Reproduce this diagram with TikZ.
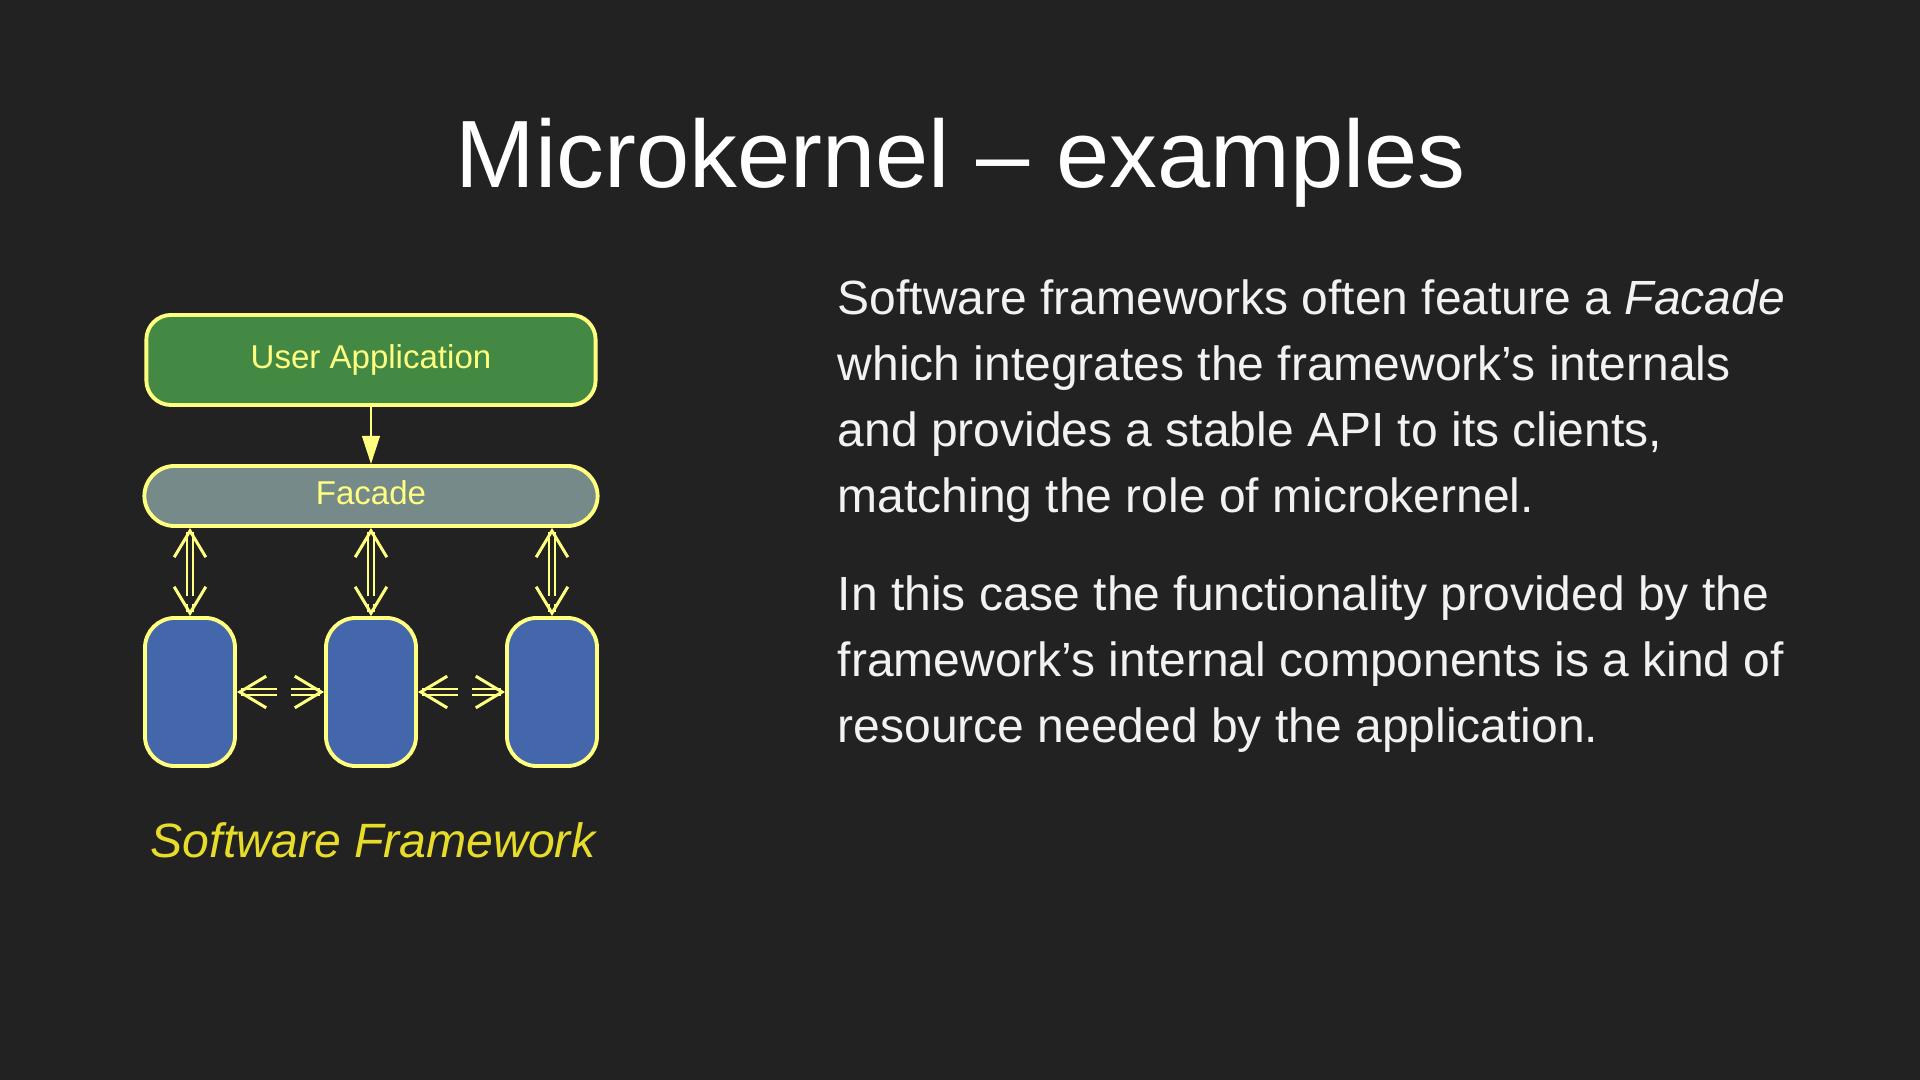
\documentclass[tikz,border=0pt]{standalone}
\usepackage{fontspec}
\setmainfont{Liberation Sans}
\usepackage{tikz}
\usetikzlibrary{arrows.meta}
\definecolor{slidebg}{HTML}{222222}
\definecolor{boxgreen}{HTML}{438943}
\definecolor{boxgray}{HTML}{778A8A}
\definecolor{boxblue}{HTML}{4466AA}
\definecolor{edgeyellow}{HTML}{FFFF80}
\definecolor{capyellow}{HTML}{E8DC2A}
\definecolor{bodywhite}{HTML}{F2F2F2}
\begin{document}
\begin{tikzpicture}[x=0.01cm,y=-0.01cm,
  bx/.style={draw=edgeyellow,line width=1.1pt,text=edgeyellow,font=\fontsize{9.4}{11}\selectfont,inner sep=0pt},
  ua/.style={bx,fill=boxgreen,rounded corners=7pt,minimum width=4.49cm,minimum height=0.90cm},
  fc/.style={bx,fill=boxgray,rounded corners=8.6pt,minimum width=4.53cm,minimum height=0.60cm,text depth=1.7pt},
  cmp/.style={bx,fill=boxblue,rounded corners=8.5pt,minimum width=0.90cm,minimum height=1.48cm},
  ar/.style={-{Triangle[length=8pt,width=5pt]},edgeyellow,line width=0.7pt},
  dar/.style={{Straight Barb[length=7.5pt,width=9pt,line width=0.85pt]}-{Straight Barb[length=7.5pt,width=9pt,line width=0.85pt]},
    draw=edgeyellow,line width=0.75pt,double=slidebg,double distance=1pt},
  tx/.style={text=bodywhite,anchor=base west,align=left,inner sep=0pt,font=\fontsize{13.65}{18.8}\selectfont}]
\fill[slidebg] (0,0) rectangle (1920,1080);
\useasboundingbox (0,0) rectangle (1920,1080);
% title
\node[text=white,anchor=base,inner sep=0pt,font=\fontsize{27.2}{32}\selectfont] (title) at (961,188) {Microkernel -- examples};
% diagram
\node[ua] (app) at (371,360) {User Application};
\node[fc] (fac) at (371,496) {Facade};
\node[cmp] (c1) at (190,692) {};
\node[cmp] (c2) at (371,692) {};
\node[cmp] (c3) at (552,692) {};
\draw[ar] (app) -- (fac);
\foreach \c in {c1,c2,c3}
  \draw[dar,dash pattern=on 18pt off 2.3pt on 8pt] (\c.north |- fac.south) -- (\c.north);
\draw[dar,dash pattern=on 10pt off 4pt on 10pt] (c1.east) -- (c2.west);
\draw[dar,dash pattern=on 10pt off 4pt on 10pt] (c2.east) -- (c3.west);
\node[text=capyellow,anchor=base,inner sep=0pt,font=\fontsize{13.7}{16}\selectfont\itshape] (cap) at (373,858) {Software Framework};
% text (base = last line)
\node[tx] (p1) at (837,512.5) {Software frameworks often feature a \textit{Facade}\\
which integrates the framework’s internals\\
and provides a stable API to its clients,\\
matching the role of microkernel.};
\node[tx] (p2) at (837,743) {In this case the functionality provided by the\\
framework’s internal components is a kind of\\
resource needed by the application.};
\end{tikzpicture}
\end{document}
